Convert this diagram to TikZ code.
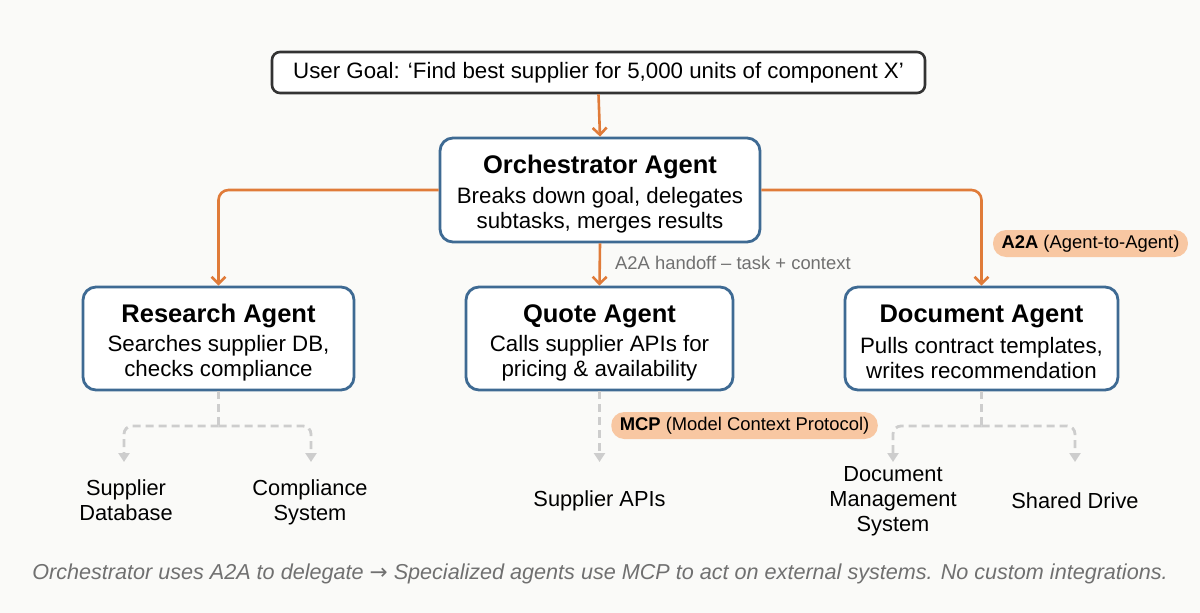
\documentclass[tikz,border=0pt]{standalone}
\usepackage{fontspec}
\setmainfont{Liberation Sans}
\newfontfamily\arrowfont{DejaVu Sans}
\usetikzlibrary{arrows.meta}
\definecolor{bgc}{HTML}{FAFAF8}
\definecolor{orng}{HTML}{E07B39}
\definecolor{bluec}{HTML}{3E6A93}
\definecolor{darkc}{HTML}{333333}
\definecolor{grayd}{HTML}{CDCDCD}
\definecolor{graytxt}{HTML}{707070}
\definecolor{pillc}{HTML}{F8C7A2}
\tikzset{
  goalbox/.style={draw=darkc, line width=2.6pt, rounded corners=8pt, fill=white, minimum width=653pt, minimum height=41pt, inner sep=0pt},
  agentbox/.style={draw=bluec, line width=2.8pt, rounded corners=13pt, fill=white, inner sep=0pt},
  ttl/.style={font=\fontsize{25.5}{30}\selectfont\bfseries, inner sep=0pt},
  body/.style={font=\fontsize{22.3}{25}\selectfont, align=center, inner sep=0pt},
  sys/.style={font=\fontsize{21.8}{25}\selectfont, align=center, inner sep=0pt},
  oarrow/.style={draw=orng, line width=2.6pt, rounded corners=10pt, -{Straight Barb[length=7pt,width=14pt,line width=2.6pt]}},
  garrow/.style={draw=grayd, line width=2.8pt, dash pattern=on 8pt off 5pt, rounded corners=8pt, -{Triangle[length=9pt,width=11pt]}},
  gline/.style={draw=grayd, line width=2.8pt, dash pattern=on 8pt off 5pt},
  pill/.style={fill=pillc, rounded corners=13pt, inner xsep=8.5pt, inner ysep=0pt, minimum height=27pt, font=\fontsize{18.4}{21}\selectfont},
}
\begin{document}
\begin{tikzpicture}[x=1pt,y=-1pt]
\useasboundingbox[fill=bgc] (0,0) rectangle (1200,613);

% goal
\node[goalbox] (goal) at (598.5,72.5) {};
\node[body] (goalt) at (598.5,72.5) {User Goal: ‘Find best supplier for 5,000 units of component X’};

% orchestrator
\node[agentbox, minimum width=320pt, minimum height=104pt] (orch) at (600,190) {};
\node[ttl] (orcht) at (600,167) {Orchestrator Agent};
\node[body] (orchb) at (600,210) {Breaks down goal, delegates\\subtasks, merges results};

% agents
\node[agentbox, minimum width=271pt, minimum height=103pt] (res) at (218.5,338.5) {};
\node[ttl] (rest) at (218.5,316) {Research Agent};
\node[body] (resb) at (218.5,358) {Searches supplier DB,\\checks compliance};

\node[agentbox, minimum width=267pt, minimum height=103pt] (quo) at (599.5,338.5) {};
\node[ttl] (quot) at (599.5,316) {Quote Agent};
\node[body] (quob) at (599.5,358) {Calls supplier APIs for\\pricing \& availability};

\node[agentbox, minimum width=273pt, minimum height=103pt] (doc) at (981.5,338.5) {};
\node[ttl] (doct) at (981.5,316) {Document Agent};
\node[body] (docb) at (981.5,358) {Pulls contract templates,\\writes recommendation};

% orange connectors
\draw[oarrow] (goal.south) -- (orch.north);
\draw[oarrow] (orch.west) -| (res.north);
\draw[oarrow] (orch.east) -| (doc.north);
\draw[oarrow] (orch.south) -- (quo.north);
\node[font=\fontsize{18.4}{21}\selectfont, text=graytxt, anchor=west, inner sep=0pt] (hand) at (615,263) {A2A handoff – task + context};

% pills
\node[pill] (a2a) at (1090.5,243.5) {\textbf{A2A} (Agent-to-Agent)};
\node[pill] (mcp) at (744.5,425.5) {\textbf{MCP} (Model Context Protocol)};

% external systems
\node[sys] (supdb) at (126,500.5) {Supplier\\Database};
\node[sys] (comp) at (310,502.5) {Compliance\\System};
\node[sys] (sapi) at (599.5,500.5) {Supplier APIs};
\node[sys] (dms) at (893,501.5) {Document\\Management\\System};
\node[sys] (shd) at (1075,500.5) {Shared Drive};

\coordinate (rf) at (218.5,426);
\coordinate (supdbin) at (124,462);
\coordinate (compin) at (311,462);
\draw[gline] (res.south) -- (rf);
\draw[garrow] (rf) -| (supdbin);
\draw[garrow] (rf) -| (compin);

\coordinate (sapiin) at (599.5,462);
\draw[garrow] (quo.south) -- (sapiin);

\coordinate (df) at (981.5,426);
\coordinate (dmsin) at (893,462);
\coordinate (shdin) at (1075,462);
\draw[gline] (doc.south) -- (df);
\draw[garrow] (df) -| (dmsin);
\draw[garrow] (df) -| (shdin);

% footnote
\node[font=\fontsize{21.6}{25}\selectfont\itshape, text=graytxt, inner sep=0pt] (foot) at (600,574) {Orchestrator uses A2A to delegate {\arrowfont\upshape →} Specialized agents use MCP to act on external systems. No custom integrations.};
\end{tikzpicture}
\end{document}
